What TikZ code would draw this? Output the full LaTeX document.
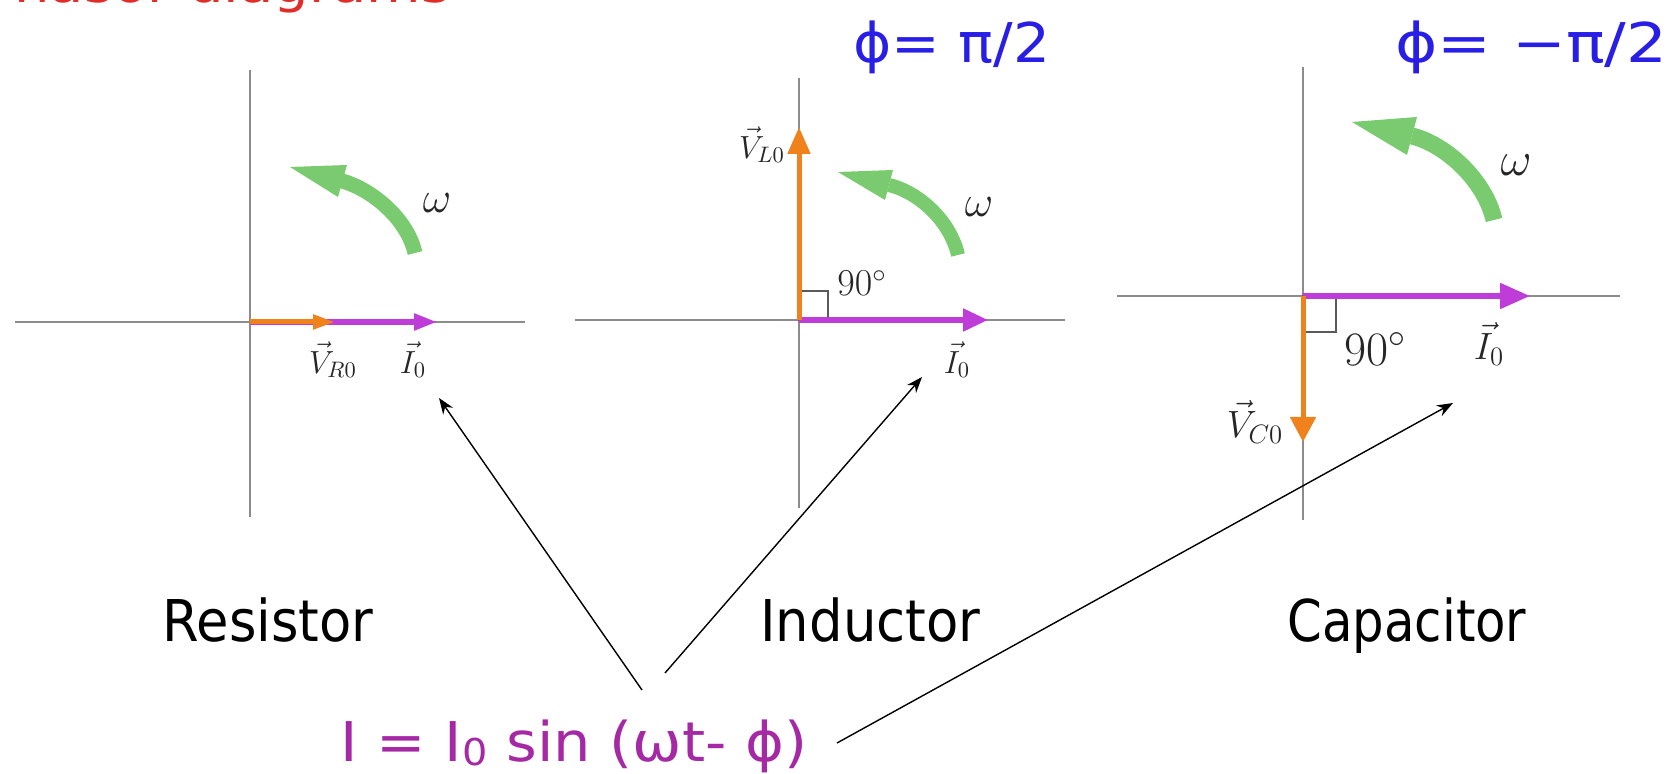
\RequirePackage{fix-cm}
\documentclass[tikz,border=0pt]{standalone}
\usepackage{fontspec}
\usepackage{graphicx}
\usetikzlibrary{arrows.meta}
\newfontfamily\sans{DejaVu Sans}
\definecolor{axisgray}{RGB}{140,140,140}
\definecolor{phorange}{RGB}{240,130,30}
\definecolor{phpurple}{RGB}{190,60,215}
\definecolor{arcgreen}{RGB}{122,202,112}
\definecolor{phiblue}{RGB}{40,30,230}
\definecolor{formmag}{RGB}{165,40,165}
\definecolor{titlered}{RGB}{225,45,40}
\definecolor{sqgray}{RGB}{90,90,90}
\begin{document}
\begin{tikzpicture}[x=0.5pt,y=-0.5pt,
  axisline/.style={draw=axisgray, line width=1pt},
  vorange/.style={draw=phorange, line width=2.5pt},
  ipurple/.style={draw=phpurple, line width=2.6pt},
  rsq/.style={draw=sqgray, line width=0.6pt},
  pointer/.style={draw=black, line width=0.7pt, -{Stealth[length=8pt,width=6pt]}},
  vlab/.style={inner sep=0, text=black!85, font=\fontsize{16}{18}\selectfont},
  vlabbig/.style={inner sep=0, text=black!85, font=\fontsize{19}{21}\selectfont},
  omg/.style={inner sep=0, text=black!85, font=\fontsize{22}{24}\selectfont},
  omgbig/.style={inner sep=0, text=black!85, font=\fontsize{24}{26}\selectfont},
  deg/.style={inner sep=0, text=black!85, font=\fontsize{19}{21}\selectfont},
  degbig/.style={inner sep=0, text=black!85, font=\fontsize{24}{26}\selectfont},
  panellab/.style={anchor=base west, inner sep=0, text=black, font=\sans\fontsize{28.8}{32}\selectfont},
  philab/.style={anchor=base west, inner sep=0, text=phiblue, font=\sans\fontsize{27.4}{30}\selectfont},
  greenarc/.style={draw=arcgreen, line cap=butt}
]
\useasboundingbox (0,0) rectangle (1678,774);
\clip (0,0) rectangle (1678,774);
\fill[white] (0,0) rectangle (1678,774);

% title (cut off at the top)
\node[anchor=base west, inner sep=0, text=titlered] (title) at (-20,3)
  {\resizebox{235pt}{\height}{\sans\fontsize{25.5}{28}\selectfont Phasor diagrams}};

% ---------------- Resistor ----------------
\coordinate (oR) at (250,322);
\draw[axisline] (250,70) -- (250,517);
\draw[axisline] (15,322) -- (525,322);
\coordinate (vRend) at (335,322);
\coordinate (iRend) at (437,322);
\draw[ipurple, -{Triangle[length=11.5pt,width=8pt]}] (oR) -- (iRend);
\draw[vorange, -{Triangle[length=11pt,width=7pt]}] (oR) -- (vRend);
\fill[arcgreen] (290,167) -- (347,165) -- (338,197) -- cycle;
\draw[greenarc, line width=7.5pt] (415,253) .. controls (407,218) and (371,189) .. (342,181);
\node[vlab] (VR) at (333,360) {$\vec{V}_{R0}$};
\node[vlab] (IR) at (413,360) {$\vec{I}_{0}$};
\node[omg] (wR) at (437,203) {$\omega$};
\node[panellab] (res) at (162,642) {\resizebox{105.5pt}{\height}{Resistor}};

% ---------------- Inductor ----------------
\coordinate (oL) at (799,320);
\draw[axisline] (799,78) -- (799,508);
\draw[axisline] (575,320) -- (1065,320);
\draw[rsq] (799,320) rectangle (828,291);
\coordinate (iLend) at (988,320);
\coordinate (vLend) at (799,127);
\draw[ipurple, -{Triangle[length=12.5pt,width=11pt]}] (oL) -- (iLend);
\draw[vorange, -{Triangle[length=13.5pt,width=11pt]}] (oL) -- (vLend);
\fill[arcgreen] (838,172) -- (893,170) -- (885,200) -- cycle;
\draw[greenarc, line width=7pt] (958,255) .. controls (950,220) and (918,192) .. (889,185);
\node[vlab] (VL) at (762,145) {$\vec{V}_{L0}$};
\node[deg] (dL) at (862,283) {$90^{\circ}$};
\node[omg] (wL) at (979,207) {$\omega$};
\node[vlab] (IL) at (957,360) {$\vec{I}_{0}$};
\node[panellab] (ind) at (760,642) {\resizebox{110pt}{\height}{Inductor}};
\node[philab] (phiL) at (853,63) {\resizebox{98.5pt}{\height}{ϕ= π/2}};

% ---------------- Capacitor ----------------
\coordinate (oC) at (1303,296);
\draw[axisline] (1303,67) -- (1303,520);
\draw[axisline] (1117,296) -- (1620,296);
\draw[rsq] (1303,296) rectangle (1336,332);
\coordinate (iCend) at (1530,296);
\coordinate (vCend) at (1303,442);
\draw[ipurple, -{Triangle[length=15pt,width=12.5pt]}] (oC) -- (iCend);
\draw[vorange, -{Triangle[length=12.5pt,width=12.5pt]}] (oC) -- (vCend);
\fill[arcgreen] (1352,122) -- (1417,117) -- (1407,155) -- cycle;
\draw[greenarc, line width=8.5pt] (1494,220) .. controls (1485,180) and (1445,144) .. (1412,136);
\node[degbig] (dC) at (1375,349) {$90^{\circ}$};
\node[vlabbig] (IC) at (1489,344) {$\vec{I}_{0}$};
\node[vlabbig] (VC) at (1255,422) {$\vec{V}_{C0}$};
\node[omgbig] (wC) at (1516,165) {$\omega$};
\node[panellab] (cap) at (1287,642) {\resizebox{119.5pt}{\height}{Capacitor}};
\node[philab] (phiC) at (1395,63) {\resizebox{136pt}{\height}{ϕ= −π/2}};

% ---------------- formula and pointers ----------------
\node[anchor=base west, inner sep=0, text=formmag] (form) at (340,762)
  {\resizebox{233.5pt}{\height}{\sans\fontsize{27.4}{30}\selectfont I = I\raisebox{-0.06em}{\fontsize{18.5}{19}\selectfont 0} sin (ωt- ϕ)}};
\coordinate (s1) at (642,690);
\coordinate (s2) at (665,673);
\coordinate (s3) at (837,743);
\coordinate (tR) at (439,398);
\coordinate (tL) at (922,377);
\coordinate (tC) at (1453,403);
\draw[pointer] (s1) -- (tR);
\draw[pointer] (s2) -- (tL);
\draw[pointer] (s3) -- (tC);
\end{tikzpicture}
\end{document}
